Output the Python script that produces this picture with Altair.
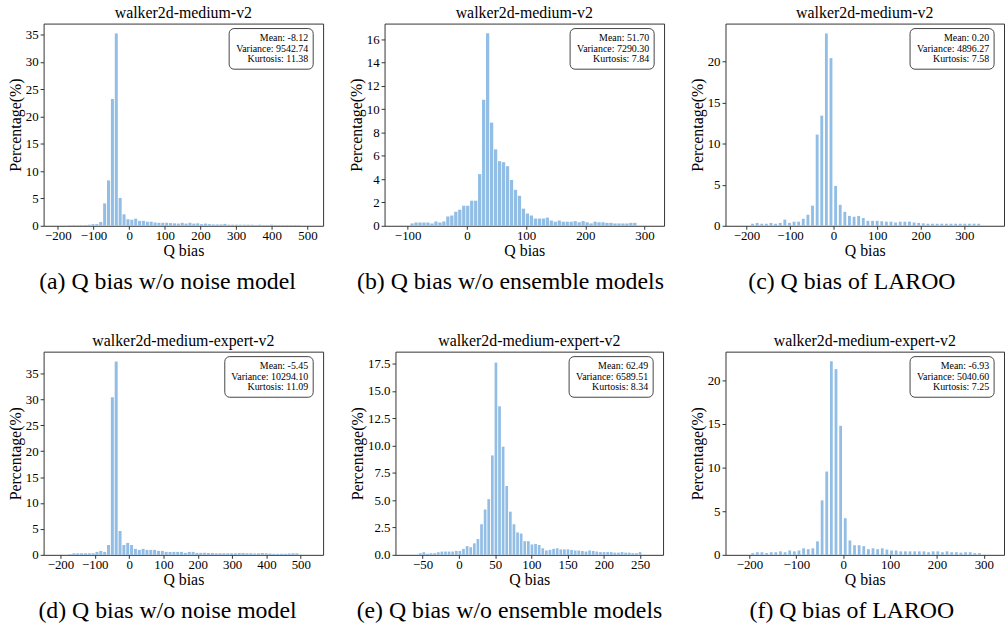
import altair as alt
import pandas as pd

FONT = "Liberation Serif"
BAR_COLOR = "#92BEE5"
FRAME = "#333333"

# ---------------- data ----------------
titles = ["walker2d-medium-v2", "walker2d-medium-v2", "walker2d-medium-v2",
          "walker2d-medium-expert-v2", "walker2d-medium-expert-v2", "walker2d-medium-expert-v2"]
captions = ["(a) Q bias w/o noise model", "(b) Q bias w/o ensemble models", "(c) Q bias of LAROO",
            "(d) Q bias w/o noise model", "(e) Q bias w/o ensemble models", "(f) Q bias of LAROO"]
stats = [
    ["Mean: -8.12", "Variance: 9542.74", "Kurtosis: 11.38"],
    ["Mean: 51.70", "Variance: 7290.30", "Kurtosis: 7.84"],
    ["Mean: 0.20", "Variance: 4896.27", "Kurtosis: 7.58"],
    ["Mean: -5.45", "Variance: 10294.10", "Kurtosis: 11.09"],
    ["Mean: 62.49", "Variance: 6589.51", "Kurtosis: 8.34"],
    ["Mean: -6.93", "Variance: 5040.60", "Kurtosis: 7.25"],
]

# first bin centre and bin width of each histogram
bin_start = [-166.7, -92.6, -186.0, -172.0, -53.3, -193.0]
bin_width = [10.88, 6.72, 10.59, 11.2, 4.97, 9.87]

pct_a = [0.1, 0.15, 0.1, 0.15, 0.15, 0.2, 0.3, 0.3, 0.7, 4.1,
         8.3, 23.2, 35.2, 5.1, 2.1, 1.2, 1.1, 1.3, 0.9, 0.9,
         0.75, 0.75, 0.6, 0.55, 0.55, 0.55, 0.5, 0.45, 0.4, 0.55,
         0.4, 0.55, 0.4, 0.45, 0.3, 0.4, 0.3, 0.25, 0.25, 0.25,
         0.35, 0.2, 0.2, 0.2, 0.2, 0.2, 0.2, 0.2, 0.15, 0.2,
         0.15, 0.15, 0.2, 0.15, 0.15, 0.15, 0.15, 0.15, 0.15, 0.15]
pct_b = [0.2, 0.28, 0.28, 0.28, 0.28, 0.2, 0.37, 0.28, 0.37, 0.8,
         0.88, 1.2, 1.38, 1.72, 1.72, 2.15, 2.15, 4.43, 10.8, 16.5,
         8.84, 6.55, 5.54, 5.45, 5.11, 3.93, 3.08, 2.57, 1.47, 1.05,
         0.88, 0.62, 0.62, 0.62, 0.7, 0.45, 0.35, 0.45, 0.35, 0.35,
         0.35, 0.4, 0.3, 0.4, 0.3, 0.2, 0.35, 0.3, 0.3, 0.25,
         0.25, 0.2, 0.2, 0.2, 0.2, 0.25, 0.25]
pct_c = [0.25, 0.35, 0.25, 0.25, 0.35, 0.25, 0.35, 0.75, 0.35, 0.5,
         0.5, 0.85, 1.35, 2.45, 11.1, 13.4, 23.4, 20.4, 4.85, 2.55,
         1.7, 1.2, 1.1, 1.2, 0.95, 0.6, 0.6, 0.6, 0.55, 0.5,
         0.5, 0.4, 0.5, 0.5, 0.5, 0.4, 0.35, 0.3, 0.25, 0.25,
         0.25, 0.25, 0.25, 0.25, 0.25, 0.25, 0.25, 0.25, 0.25, 0.25]
pct_d = [0.13, 0.3, 0.3, 0.3, 0.3, 0.3, 0.3, 0.57, 0.76, 0.57,
         1.9, 30.4, 37.3, 4.6, 1.9, 2.3, 1.9, 1.15, 0.96, 1.15,
         0.96, 0.96, 0.96, 0.76, 0.76, 0.57, 0.57, 0.57, 0.57, 0.57,
         0.38, 0.57, 0.57, 0.38, 0.38, 0.4, 0.35, 0.35, 0.3, 0.3,
         0.3, 0.3, 0.3, 0.3, 0.35, 0.35, 0.3, 0.3, 0.25, 0.3,
         0.35, 0.3, 0.25, 0.2, 0.2, 0.2, 0.2, 0.25, 0.3, 0.3]
pct_e = [0.15, 0.24, 0.1, 0.15, 0.15, 0.24, 0.3, 0.3, 0.3, 0.3,
         0.36, 0.36, 0.55, 0.8, 0.7, 1.05, 1.45, 2.8, 4.15, 5.1,
         9.1, 17.6, 13.6, 9.9, 6.3, 3.95, 2.8, 2.05, 1.95, 1.25,
         1.25, 0.95, 1.0, 0.9, 0.6, 0.4, 0.45, 0.55, 0.6, 0.5,
         0.5, 0.5, 0.45, 0.4, 0.4, 0.35, 0.3, 0.4, 0.35, 0.3,
         0.25, 0.25, 0.25, 0.25, 0.2, 0.2, 0.25, 0.2, 0.2, 0.15,
         0.15, 0.25]
pct_f = [0.2, 0.3, 0.3, 0.2, 0.3, 0.3, 0.4, 0.3, 0.5, 0.4,
         0.5, 0.75, 0.65, 0.75, 1.55, 6.25, 9.55, 22.2, 21.3, 14.8,
         4.2, 1.65, 1.1, 1.1, 1.0, 0.65, 0.75, 0.65, 0.75, 0.6,
         0.5, 0.5, 0.4, 0.4, 0.4, 0.4, 0.4, 0.4, 0.3, 0.4,
         0.4, 0.3, 0.4, 0.3, 0.3, 0.25, 0.3, 0.3, 0.2, 0.2]
percentages = [pct_a, pct_b, pct_c, pct_d, pct_e, pct_f]

x_domains = [[-240, 544], [-139, 333], [-248, 391], [-249, 565], [-87.5, 281.6], [-251, 343]]
y_domains = [[0, 37.0], [0, 17.33], [0, 24.6], [0, 39.2], [0, 18.6], [0, 23.3]]
x_ticks = [[-200, -100, 0, 100, 200, 300, 400, 500],
           [-100, 0, 100, 200, 300],
           [-200, -100, 0, 100, 200, 300],
           [-200, -100, 0, 100, 200, 300, 400, 500],
           [-50, 0, 50, 100, 150, 200, 250],
           [-200, -100, 0, 100, 200, 300]]
y_ticks = [[0, 5, 10, 15, 20, 25, 30, 35],
           [0, 2, 4, 6, 8, 10, 12, 14, 16],
           [0, 5, 10, 15, 20],
           [0, 5, 10, 15, 20, 25, 30, 35],
           [0, 2.5, 5, 7.5, 10, 12.5, 15, 17.5],
           [0, 5, 10, 15, 20]]
y_formats = ["d", "d", "d", "d", ".1f", "d"]

# ---------------- styling / layout ----------------
bar_frac = [0.78, 0.82, 0.62, 0.78, 0.75, 0.6]
widths = [282, 282, 281, 282, 270, 281]
heights = [204, 204, 204, 205, 205, 205]
caption_dx = [-16, -14, -13, -16, -20, -13]


def panel(k):
    n = len(percentages[k])
    w = bin_width[k]
    centers = [bin_start[k] + i * w for i in range(n)]
    half = bar_frac[k] * w / 2
    df = pd.DataFrame({
        "lo": [c - half for c in centers],
        "hi": [c + half for c in centers],
        "pct": percentages[k],
        "zero": [0.0] * n,
    })
    W, H = widths[k], heights[k]
    bars = alt.Chart(df).mark_rect(color=BAR_COLOR).encode(
        x=alt.X("lo:Q",
                scale=alt.Scale(domain=x_domains[k], nice=False, zero=False),
                axis=alt.Axis(values=x_ticks[k], format="d", title="Q bias",
                              labelFont=FONT, titleFont=FONT,
                              labelPadding=0, titlePadding=0)),
        x2="hi:Q",
        y=alt.Y("pct:Q",
                scale=alt.Scale(domain=y_domains[k], nice=False),
                axis=alt.Axis(values=y_ticks[k], format=y_formats[k], title="Percentage(%)",
                              labelFont=FONT, titleFont=FONT,
                              labelPadding=2, titlePadding=2)),
        y2="zero:Q",
    )
    one = pd.DataFrame({"k": [0]})
    maxlen = max(len(s) for s in stats[k])
    bw = 4.4 * maxlen + 10
    box = alt.Chart(one).mark_rect(cornerRadius=5, fill="white", stroke="#444444",
                                   strokeWidth=1).encode(
        x=alt.value(W - 10 - bw), x2=alt.value(W - 10),
        y=alt.value(5), y2=alt.value(46))
    txt = alt.Chart(one).mark_text(text=stats[k], align="right", baseline="middle",
                                   font=FONT, fontSize=10, lineHeight=10.8,
                                   color="black").encode(
        x=alt.value(W - 15), y=alt.value(14.5))
    cap = alt.Chart(one).mark_text(text=captions[k], align="center", baseline="middle",
                                   font=FONT, fontSize=24, color="black").encode(
        x=alt.value(W / 2 + caption_dx[k]), y=alt.value(H + 57))
    return alt.layer(bars, box, txt, cap).properties(
        width=W, height=H,
        title=alt.TitleParams(titles[k], font=FONT, fontSize=16, fontWeight="normal",
                              color="black", offset=3))


row1 = alt.hconcat(panel(0), panel(1), panel(2), spacing=24)
row2 = alt.hconcat(panel(3), panel(4), panel(5), spacing=25)
chart = alt.vconcat(row1, row2, spacing=37).properties(
    padding={"left": 7, "top": 1, "right": 0, "bottom": 0}
).configure_view(
    stroke=FRAME, strokeWidth=1
).configure_axis(
    domain=False, grid=False, tickColor=FRAME, tickSize=3.5, tickWidth=1,
    labelFont=FONT, labelFontSize=13, labelColor="black",
    titleFont=FONT, titleFontSize=16, titleFontWeight="normal", titleColor="black"
).configure_title(font=FONT)

chart.save("out.html", embed_options={"renderer": "svg", "actions": False})
